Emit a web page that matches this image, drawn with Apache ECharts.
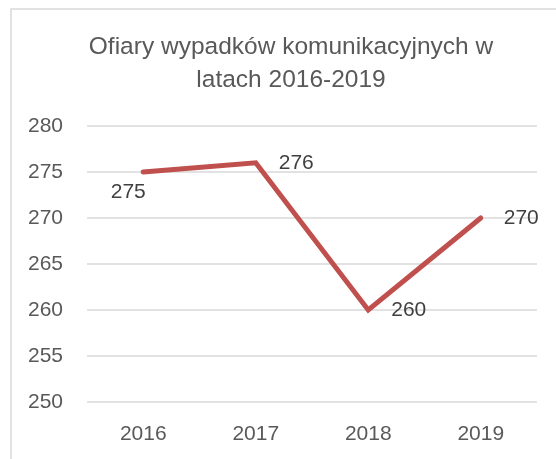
<!DOCTYPE html>
<html>
<head>
<meta charset="utf-8">
<script src="https://cdn.jsdelivr.net/npm/echarts@6/dist/echarts.min.js"></script>
<style>
html,body{margin:0;padding:0;background:#fff;}
#c{width:556px;height:459px;}
</style>
</head>
<body>
<div id="c"></div>
<script>
const titleText = "Ofiary wypadków komunikacyjnych w\nlatach 2016-2019";
const categories = ["2016", "2017", "2018", "2019"];
const values = [275, 276, 260, 270];
const yTicks = [250, 255, 260, 265, 270, 275, 280];

const FONT = "Liberation Sans";
const TXT = "#595959";

const labelPos = ["below", "right", "right", "right"];

const chart = echarts.init(document.getElementById('c'), null, {renderer: 'canvas'});
chart.setOption({
  animation: false,
  backgroundColor: '#fff',
  title: {
    text: titleText,
    left: 286,
    top: 26,
    textAlign: 'center',
    textStyle: {fontFamily: FONT, fontSize: 24.5, fontWeight: 'normal', color: TXT, lineHeight: 33}
  },
  graphic: [{
    type: 'rect',
    shape: {x: 11, y: 9, width: 700, height: 600},
    style: {fill: 'none', stroke: '#d9d9d9', lineWidth: 1.5},
    silent: true
  }],
  grid: {left: 87, right: 19, top: 126, bottom: 57, containLabel: false},
  xAxis: {
    type: 'category',
    data: categories,
    boundaryGap: true,
    axisLine: {show: false},
    axisTick: {show: false},
    axisLabel: {fontFamily: FONT, fontSize: 21, color: TXT, margin: 22}
  },
  yAxis: {
    type: 'value',
    min: yTicks[0],
    max: yTicks[yTicks.length - 1],
    interval: 5,
    axisLine: {show: false},
    axisTick: {show: false},
    splitLine: {lineStyle: {color: '#d9d9d9', width: 1.5}},
    axisLabel: {fontFamily: FONT, fontSize: 21, color: TXT, margin: 24}
  },
  series: [{
    type: 'line',
    data: values.map((v, i) => ({
      value: v,
      label: labelPos[i] === 'below'
        ? {show: true, position: [-14, 11], align: 'center', verticalAlign: 'top'}
        : {show: true, position: 'right', distance: 22}
    })),
    symbol: 'circle',
    symbolSize: 2,
    showSymbol: true,
    itemStyle: {color: '#C0504D'},
    lineStyle: {color: '#C0504D', width: 5, cap: 'round', join: 'miter'},
    label: {show: true, fontFamily: FONT, fontSize: 21, color: '#404040'},
    labelLayout: {hideOverlap: false}
  }]
});
</script>
</body>
</html>
